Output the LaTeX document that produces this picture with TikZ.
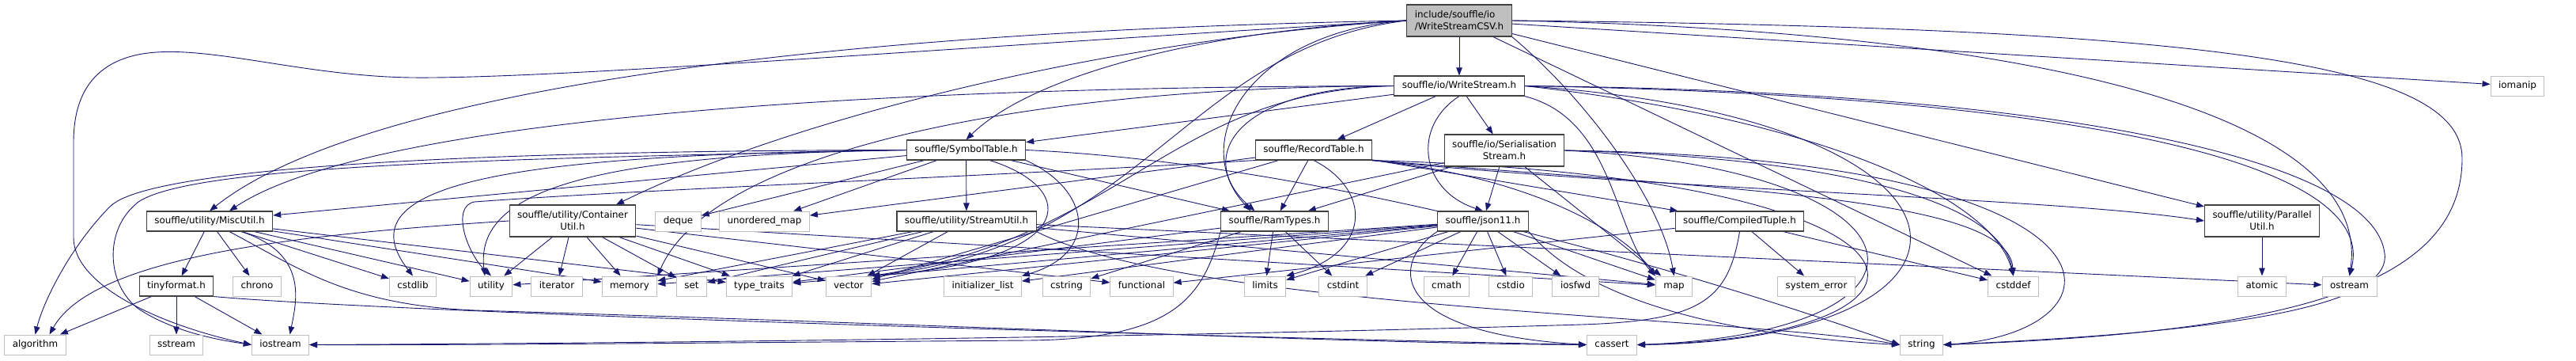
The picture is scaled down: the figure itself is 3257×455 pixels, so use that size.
\documentclass[tikz,border=0pt]{standalone}
\usepackage{fontspec}
\setmainfont{DejaVu Sans}
\usetikzlibrary{arrows.meta}

\definecolor{edgeblue}{HTML}{191970}
\definecolor{sysgray}{HTML}{BFBFBF}
\definecolor{boxline}{HTML}{404040}

\pgfdeclarelayer{back}
\pgfdeclarelayer{wires}
\pgfsetlayers{back,wires,main}

\tikzset{
  hfile/.style={draw=boxline, line width=1.1pt, fill=white, inner xsep=10pt,
    minimum height=25pt, text height=9pt, text depth=2.8pt,
    font=\fontsize{11.9}{15}\selectfont},
  sysfile/.style={hfile, draw=sysgray, line width=1pt},
  twoline/.style={align=center, minimum height=40pt, text height=, text depth=},
  rootfile/.style={hfile, twoline, align=left, fill=sysgray},
  dep/.style={draw=edgeblue, line width=0.9pt, -{Triangle[length=10pt,width=7.5pt]}},
}

\begin{document}
\begin{tikzpicture}[x=1pt,y=-1pt]
\useasboundingbox (0,0) rectangle (3257,455);
\begin{pgfonlayer}{back}
\fill[white] (0,0) rectangle (3257,455);
\end{pgfonlayer}

% project headers
\node[rootfile] (csv) at (1845,26) {include/souffle/io\\/WriteStreamCSV.h};
\node[hfile] (ws) at (1845,108.5) {souffle/io/WriteStream.h};
\node[hfile] (st) at (1221.5,189.5) {souffle/SymbolTable.h};
\node[hfile] (rt) at (1661,189.5) {souffle/RecordTable.h};
\node[hfile,twoline] (ss) at (1902,190) {souffle/io/Serialisation\\Stream.h};
\node[hfile] (misc) at (265,279.5) {souffle/utility/MiscUtil.h};
\node[hfile,twoline] (cont) at (724,279) {souffle/utility/Container\\Util.h};
\node[hfile] (stream) at (1222,279.5) {souffle/utility/StreamUtil.h};
\node[hfile] (ram) at (1611.5,279.5) {souffle/RamTypes.h};
\node[hfile] (json) at (1875,279.5) {souffle/json11.h};
\node[hfile] (ctuple) at (2199.5,279.5) {souffle/CompiledTuple.h};
\node[hfile,twoline] (par) at (2860,279) {souffle/utility/Parallel\\Util.h};
\node[hfile] (tiny) at (223,361.5) {tinyformat.h};

% system headers
\node[sysfile] (iomanip) at (3183,108.5) {iomanip};
\node[sysfile] (deque) at (857.5,279.5) {deque};
\node[sysfile] (umap) at (966.5,279.5) {unordered\_map};
\foreach \n/\x/\t in {chrono/325/chrono, cstdlib/522/cstdlib, utility/621/utility,
    iterator/704/iterator, memory/796/memory, set/874.5/set,
    typetraits/960/type\_traits, vector/1073/vector,
    initlist/1242.5/initializer\_list, cstring/1348.5/cstring,
    functional/1443.5/functional, limits/1599.5/limits, cstdint/1698/cstdint,
    cmath/1829/cmath, cstdio/1910/cstdio, iosfwd/1992/iosfwd, map/2116.5/map,
    syserr/2296.5/system\_error, cstddef/2545.5/cstddef, atomic/2860/atomic,
    ostream/2970.5/ostream}
  \node[sysfile] (\n) at (\x,361.5) {\t};
\foreach \n/\x in {algorithm/44.5, sstream/223, iostream/354.5, cassert/2038, string/2429.5}
  \node[sysfile] (\n) at (\x,435.5) {\n};

\begin{pgfonlayer}{wires}
% direct includes
\foreach \a/\b in {csv/ws, csv/par, csv/iomanip, csv/cstddef,
    ws/st, ws/rt, ws/ss,
    st/misc, st/stream, st/deque, st/umap, st/ram,
    rt/ram, rt/ctuple, rt/umap, rt/vector,
    ss/ram, ss/json, ss/map, ss/vector,
    json/cmath, json/cstdio, json/iosfwd, json/map, json/cstdint, json/limits,
    json/initlist, json/typetraits, json/utility, json/vector, json/memory,
    misc/tiny, misc/chrono, misc/cstdlib, misc/utility, misc/memory, misc/typetraits,
    tiny/algorithm, tiny/sstream, tiny/iostream,
    cont/iterator, cont/memory, cont/set, cont/typetraits, cont/vector,
    cont/utility, cont/map, cont/functional,
    stream/set, stream/typetraits, stream/vector, stream/memory, stream/map, stream/ostream,
    ram/cstdint, ram/cstring, ram/limits, ram/typetraits,
    ctuple/syserr, ctuple/cstddef, ctuple/functional, par/atomic}
  \draw[dep] (\a) -- (\b);

% routed around other boxes
\draw[dep] (csv.west) .. controls (1200,60) and (700,100) .. (520,98)
  .. controls (380,96) and (260,55) .. (180,68)
  .. controls (110,80) and (93,130) .. (93,180) -- (93,300)
  .. controls (93,360) and (200,410) .. (iostream.west);
\draw[dep] (csv.west) .. controls (1000,40) and (450,120) .. (misc.north);
\draw[dep] (csv.west) .. controls (1500,40) and (1300,100) .. (st.north);
\draw[dep] (csv.west) .. controls (1400,50) and (1000,150) .. ([xshift=55pt]cont.north);
\draw[dep] (csv.west) .. controls (1580,40) and (1500,180) .. ([xshift=-30pt]ram.north);
\draw[dep] (csv.west) .. controls (1500,60) and (1450,310) .. (vector.north east);
\draw[dep] (csv.south east) .. controls (2000,120) and (2100,250) .. (map.north);
\draw[dep] (csv.east) .. controls (2600,40) and (3000,150) .. (ostream.north);
\draw[dep] (csv.east) .. controls (2800,35) and (3113,80) .. (3113,200)
  .. controls (3113,360) and (2900,420) .. (string.east);

\draw[dep] (ws.west) .. controls (1000,110) and (450,160) .. ([xshift=25pt]misc.north);
\draw[dep] (ws.west) .. controls (1560,110) and (1510,200) .. ([xshift=-25pt]ram.north);
\draw[dep] (ws.south) .. controls (1785,160) and (1795,240) .. (json.north);
\draw[dep] (ws.south east) .. controls (2040,150) and (2040,290) .. (map.north west);
\draw[dep] (ws.west) .. controls (1300,110) and (900,190) .. (memory.north east);
\draw[dep] (ws.west) .. controls (1480,115) and (1420,300) .. (vector.north east);
\draw[dep] (ws.east) .. controls (2300,150) and (2520,250) .. (cstddef.north);
\draw[dep] (ws.east) .. controls (2600,120) and (3010,200) .. (ostream.north);
\draw[dep] (ws.east) .. controls (2600,115) and (3000,200) .. (3015,320)
  .. controls (3025,390) and (2800,420) .. (string.east);
\draw[dep] (ws.east) .. controls (2550,150) and (2550,430) .. (cassert.east);

\draw[dep] (st.west) .. controls (700,190) and (200,205) .. (140,260)
  .. controls (90,310) and (55,380) .. (algorithm.north);
\draw[dep] (st.west) .. controls (700,200) and (250,205) .. (175,255)
  .. controls (130,290) and (135,360) .. (175,390)
  .. controls (220,420) and (280,430) .. (iostream.west);
\draw[dep] (st.west) .. controls (650,195) and (430,230) .. (cstdlib.north);
\draw[dep] (st.west) .. controls (750,195) and (600,240) .. ([xshift=-8pt]utility.north);
\draw[dep] (st.south east) .. controls (1380,240) and (1390,320) .. (initlist.north east);
\draw[dep] ([xshift=30pt]st.south) .. controls (1370,240) and (1360,330) .. (vector.north east);
\draw[dep] (st.east) .. controls (1750,210) and (2300,400) .. (string.west);

\draw[dep] (rt.south) .. controls (1735,240) and (1735,320) .. (limits.north east);
\draw[dep] (rt.south east) .. controls (1950,225) and (2060,300) .. (map.north west);
\draw[dep] (rt.south east) .. controls (2200,240) and (2540,250) .. (cstddef.north);
\draw[dep] (rt.south east) .. controls (2100,240) and (2600,250) .. (par.west);
\draw[dep] (rt.south west) .. controls (1200,225) and (800,240) .. (600,255)
  .. controls (570,260) and (590,320) .. (utility.north);
\draw[dep] (rt.south east) .. controls (2500,225) and (2500,425) .. (cassert.east);

\draw[dep] (ss.east) .. controls (2350,200) and (2530,260) .. (cstddef.north);
\draw[dep] (ss.east) .. controls (2460,215) and (2480,420) .. (cassert.east);
\draw[dep] (ss.east) .. controls (2720,200) and (2700,420) .. (string.east);

\draw[dep] (json.south west) .. controls (1760,330) and (1750,420) .. (cassert.west);
\draw[dep] (json.south east) .. controls (2010,385) and (2200,425) .. (string.west);
\draw[dep] ([xshift=40pt]misc.south) .. controls (390,320) and (375,380) .. ([xshift=12pt]iostream.north);
\draw[dep] ([xshift=25pt]misc.south) .. controls (380,340) and (440,385) .. (600,392)
  .. controls (1200,410) and (1700,434) .. (cassert.west);
\draw[dep] (tiny.south east) .. controls (500,395) and (1500,425) .. (cassert.west);
\draw[dep] (cont.west) .. controls (400,295) and (120,320) .. ([xshift=18pt]algorithm.north);
\draw[dep] (stream.south east) .. controls (1500,390) and (2200,400) .. (string.west);
\draw[dep] (ram.south west) .. controls (1520,380) and (1480,428) .. (1300,430)
  .. controls (900,433) and (600,436) .. (iostream.east);
\draw[dep] (ctuple.south) .. controls (2185,380) and (2150,405) .. (2000,410)
  .. controls (1500,425) and (900,433) .. (iostream.east);
\end{pgfonlayer}
\end{tikzpicture}
\end{document}
